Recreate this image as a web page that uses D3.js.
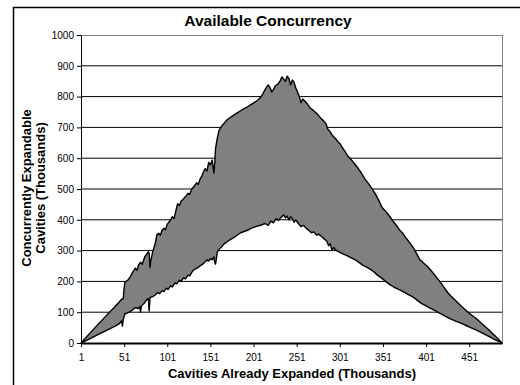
<!DOCTYPE html>
<html>
<head>
<meta charset="utf-8">
<script src="https://cdn.jsdelivr.net/npm/d3@7"></script>
<style>
  body { margin: 0; background: #fff; overflow: hidden; }
  svg { display: block; font-family: "Liberation Sans", Arial, sans-serif; }
</style>
</head>
<body>
<div id="chart"></div>
<script>
// values (x and y in thousands)
const upperX = [1,10,20,30,40,45,48,50,51,52,55,58,61,64,66,68,70,72,75,77,79,80,81,82,84,87,89,91,93,95,97,99,101,104,107,109,111,113,115,117,119,121,123,125,127,129,131,133,135,137,139,141,143,145,147,149,151,153,154,155,156,157,159,161,164,167,170,174,178,182,186,190,194,198,202,206,209,212,215,218,220,222,224,226,229,232,234,236,238,240,242,244,246,248,250,252,254,256,258,261,264,267,270,273,276,279,282,285,287,290,293,296,298,301,304,307,310,314,318,322,326,330,334,338,342,346,350,354,358,362,366,370,374,378,382,386,390,394,398,402,406,410,414,418,422,426,430,434,438,442,446,450,454,458,462,466,470,474,478,482,486,489];
const upperY = [0,28,58,88,117,132,142,145,178,198,203,215,230,243,236,255,262,256,280,288,296,292,245,268,295,322,352,356,350,366,372,368,386,396,410,404,430,452,446,460,466,472,478,486,482,498,505,512,520,515,532,542,556,566,558,586,578,594,575,552,585,632,665,690,704,714,724,732,740,747,754,761,767,774,781,789,797,810,826,838,830,815,822,834,840,852,864,856,850,866,858,838,854,846,828,815,800,780,792,784,774,762,756,748,740,730,722,712,695,685,672,664,656,648,634,622,608,596,582,568,552,533,518,503,485,464,440,428,414,398,384,368,356,340,326,310,290,270,260,250,238,224,210,196,180,164,152,141,130,119,109,99,90,82,72,62,52,42,31,20,9,0];

const lowerX = [1,10,20,30,40,45,47,48,49,50,52,55,58,61,64,67,69,70,71,74,77,79,80,81,84,87,90,92,95,97,100,102,105,107,110,112,115,117,120,122,125,127,130,133,136,139,142,145,147,149,151,153,155,156,157,159,161,164,167,170,174,178,182,186,190,194,198,202,206,210,214,218,221,224,227,230,233,236,238,240,242,244,246,248,250,253,256,259,262,265,268,271,274,277,280,283,286,288,290,292,294,296,300,304,308,312,316,320,324,328,332,336,340,344,348,352,356,360,364,368,372,376,380,384,388,392,396,400,404,408,412,416,420,424,428,432,436,440,444,448,452,456,460,464,468,472,476,480,484,489];
const lowerY = [0,12,26,40,54,62,68,72,55,78,95,98,102,108,115,112,118,100,120,128,140,144,104,148,150,156,164,160,170,167,178,174,186,182,195,192,204,200,212,208,220,218,232,240,244,250,256,264,270,266,274,270,280,262,256,296,304,312,322,328,336,342,350,358,362,366,372,376,380,383,388,382,396,390,404,398,408,416,406,412,400,410,404,392,400,388,378,382,372,366,358,361,350,353,345,338,330,316,322,300,310,302,296,290,285,280,274,268,260,252,246,240,232,222,214,205,196,188,181,176,170,164,158,152,145,136,128,122,116,110,104,98,92,86,80,75,70,66,61,56,51,46,41,35,30,24,18,12,7,0];

const xTicks = [1,51,101,151,201,251,301,351,401,451];
const yTicks = [0,100,200,300,400,500,600,700,800,900,1000];

const W = 520, H = 385;
const plotL = 81, plotR = 502, plotT = 35, plotB = 343;

const svg = d3.select('#chart')
  .append('svg')
  .attr('width', W)
  .attr('height', H);

// chart frame (runs off the window at right and bottom)
svg.append('rect')
  .attr('x', 13.5).attr('y', 7.5)
  .attr('width', 530).attr('height', 400)
  .attr('fill', '#fff')
  .attr('stroke', '#000')
  .attr('stroke-width', 1.5);

const xScale = d3.scaleLinear().domain([1, 489]).range([plotL, plotR]);
const yScale = d3.scaleLinear().domain([0, 1000]).range([plotB, plotT]);

// plot area border
svg.append('rect')
  .attr('x', plotL + 0.5).attr('y', plotT + 0.5)
  .attr('width', plotR - plotL).attr('height', plotB - plotT)
  .attr('fill', 'none')
  .attr('stroke', '#808080');

// gridlines
svg.append('g')
  .selectAll('line')
  .data(yTicks.filter(d => d > 0 && d < 1000))
  .enter()
  .append('line')
  .attr('x1', plotL).attr('x2', plotR)
  .attr('y1', d => yScale(d)).attr('y2', d => yScale(d))
  .attr('stroke', '#000')
  .attr('stroke-width', 1);

const upperPts = upperX.map((x, i) => [x, upperY[i]]);
const lowerPts = lowerX.map((x, i) => [x, lowerY[i]]);

const line = d3.line()
  .x(d => xScale(d[0]))
  .y(d => yScale(d[1]));

// gray band between the two series
svg.append('path')
  .attr('d', line(upperPts.concat(lowerPts.slice().reverse())) + 'Z')
  .attr('fill', '#808080')
  .attr('stroke', 'none');

[upperPts, lowerPts].forEach(pts => {
  svg.append('path')
    .attr('d', line(pts))
    .attr('fill', 'none')
    .attr('stroke', '#000')
    .attr('stroke-width', 1.4)
    .attr('stroke-linejoin', 'round');
});

const xAxis = d3.axisBottom(xScale)
  .tickValues(xTicks)
  .tickSize(4)
  .tickSizeOuter(0)
  .tickPadding(7);

const yAxis = d3.axisLeft(yScale)
  .tickValues(yTicks)
  .tickFormat(d3.format('d'))
  .tickSize(4)
  .tickSizeOuter(0)
  .tickPadding(3);

const gx = svg.append('g')
  .attr('transform', `translate(0, ${plotB})`)
  .call(xAxis);
gx.select('.domain').attr('stroke-width', 2);

const gy = svg.append('g')
  .attr('transform', `translate(${plotL}, 0)`)
  .call(yAxis);

svg.selectAll('.tick text')
  .attr('font-size', 10)
  .attr('font-family', '"Liberation Sans", Arial, sans-serif')
  .attr('fill', '#000');

// titles
svg.append('text')
  .text('Available Concurrency')
  .attr('x', 268).attr('y', 26)
  .attr('text-anchor', 'middle')
  .attr('font-size', 15.5)
  .attr('font-weight', 'bold');

svg.append('text')
  .text('Cavities Already Expanded (Thousands)')
  .attr('x', 292).attr('y', 378)
  .attr('text-anchor', 'middle')
  .attr('font-size', 13)
  .attr('font-weight', 'bold');

const yTitle = svg.append('text')
  .attr('transform', 'translate(31, 188) rotate(-90)')
  .attr('text-anchor', 'middle')
  .attr('font-size', 13)
  .attr('font-weight', 'bold');
yTitle.append('tspan').attr('x', 0).attr('y', 0).text('Concurrently Expandable');
yTitle.append('tspan').attr('x', 0).attr('y', 14).text('Cavities (Thousands)');
</script>
</body>
</html>
